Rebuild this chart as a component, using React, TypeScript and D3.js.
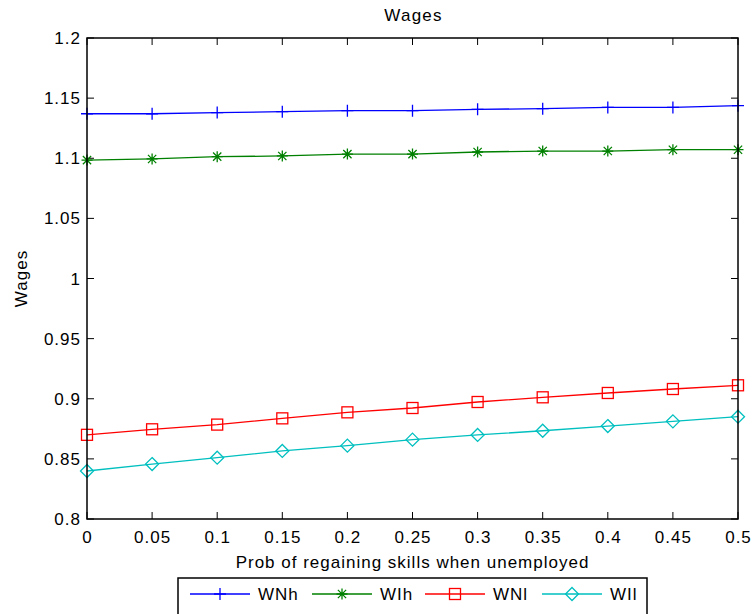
import React from "react";
import * as d3 from "d3";

const xs = [0, 0.05, 0.1, 0.15, 0.2, 0.25, 0.3, 0.35, 0.4, 0.45, 0.5];
const WNh = [1.137, 1.137, 1.138, 1.1387, 1.1396, 1.1396, 1.1407, 1.1412, 1.1423, 1.1423, 1.1437];
const WIh = [1.0985, 1.0994, 1.1013, 1.1019, 1.1035, 1.1035, 1.1052, 1.106, 1.106, 1.1071, 1.1071];
const WNl = [0.87, 0.8746, 0.8785, 0.8837, 0.8887, 0.8923, 0.8973, 0.9012, 0.9048, 0.9081, 0.9112];
const WIl = [0.8399, 0.8457, 0.851, 0.8566, 0.861, 0.866, 0.8699, 0.8734, 0.8773, 0.8812, 0.8851];
const xTicks = [0, 0.05, 0.1, 0.15, 0.2, 0.25, 0.3, 0.35, 0.4, 0.45, 0.5];
const yTicks = [0.8, 0.85, 0.9, 0.95, 1, 1.05, 1.1, 1.15, 1.2];
const seriesNames = ["WNh", "WIh", "WNl", "WIl"];
const seriesColors = ["#0000ff", "#008000", "#ff0000", "#00bfbf"];
const seriesMarkers = ["plus", "star", "square", "diamond"];

const W = 753, H = 614;
const M = { left: 87, right: 738, top: 38, bottom: 519 };
const FONT = "'Liberation Sans', Arial, sans-serif";
const LS = 1;

function Marker({ type, x, y, color }: { type: string; x: number; y: number; color: string }) {
  if (type === "plus") {
    return <path d={`M${x - 6},${y}H${x + 6}M${x},${y - 6}V${y + 6}`} stroke={color} strokeWidth={1.3} fill="none" />;
  }
  if (type === "star") {
    const r = 5.5, d = r * 0.75;
    return (
      <path
        d={`M${x - r},${y}H${x + r}M${x},${y - r}V${y + r}M${x - d},${y - d}L${x + d},${y + d}M${x - d},${y + d}L${x + d},${y - d}`}
        stroke={color} strokeWidth={1.3} fill="none" />
    );
  }
  if (type === "square") {
    return <rect x={x - 5.5} y={y - 5.5} width={11} height={11} stroke={color} strokeWidth={1.3} fill="none" />;
  }
  return <path d={`M${x},${y - 6.5}L${x + 6.5},${y}L${x},${y + 6.5}L${x - 6.5},${y}Z`} stroke={color} strokeWidth={1.3} fill="none" />;
}

export default function App() {
  const x = d3.scaleLinear().domain([0, 0.5]).range([M.left, M.right]);
  const y = d3.scaleLinear().domain([0.8, 1.2]).range([M.bottom, M.top]);
  const data = [WNh, WIh, WNl, WIl];
  const line = d3.line<number>().x((_, i) => x(xs[i])).y((d) => y(d));
  const fmt = (v: number) => String(+v.toFixed(2));
  const tl = 7;
  const legendX = [190, 312, 425, 542];
  const legendY = 594;

  return (
    <svg width={W} height={H} style={{ position: "absolute", left: 0, top: 0, fontFamily: FONT }}>
      <rect x={0} y={0} width={W} height={H} fill="#fff" />
      <text x={(M.left + M.right) / 2 + 1} y={21} textAnchor="middle" fontSize={17} letterSpacing={1.2} fill="#000">Wages</text>
      <text x={(M.left + M.right) / 2} y={568} textAnchor="middle" fontSize={17} letterSpacing={LS} fill="#000">
        Prob of regaining skills when unemployed
      </text>
      <text transform={`translate(27,${(M.top + M.bottom) / 2}) rotate(-90)`} textAnchor="middle" fontSize={17} letterSpacing={LS} fill="#000">
        Wages
      </text>
      {xTicks.map((t) => (
        <g key={"x" + t}>
          <line x1={x(t)} x2={x(t)} y1={M.bottom} y2={M.bottom - tl} stroke="#000" />
          <line x1={x(t)} x2={x(t)} y1={M.top} y2={M.top + tl} stroke="#000" />
          <text x={x(t) + 0.5} y={M.bottom + 24} textAnchor="middle" fontSize={17} letterSpacing={LS} fill="#000">{fmt(t)}</text>
        </g>
      ))}
      {yTicks.map((t) => (
        <g key={"y" + t}>
          <line x1={M.left} x2={M.left + tl} y1={y(t)} y2={y(t)} stroke="#000" />
          <line x1={M.right} x2={M.right - tl} y1={y(t)} y2={y(t)} stroke="#000" />
          <text x={M.left - 6} y={y(t) + 6} textAnchor="end" fontSize={17} letterSpacing={LS} fill="#000">{fmt(t)}</text>
        </g>
      ))}
      {data.map((vals, si) => (
        <g key={seriesNames[si]}>
          <path d={line(vals) || ""} stroke={seriesColors[si]} strokeWidth={1.3} fill="none" />
          {vals.map((v, i) => (
            <Marker key={i} type={seriesMarkers[si]} x={x(xs[i])} y={y(v)} color={seriesColors[si]} />
          ))}
        </g>
      ))}
      <rect x={M.left} y={M.top} width={M.right - M.left} height={M.bottom - M.top} fill="none" stroke="#000" strokeWidth={1.5} />
      <rect x={178} y={578} width={469} height={40} fill="#fff" stroke="#000" strokeWidth={1.5} />
      {seriesNames.map((n, i) => (
        <g key={"lg" + n}>
          <line x1={legendX[i]} x2={legendX[i] + 60} y1={legendY} y2={legendY} stroke={seriesColors[i]} strokeWidth={1.3} />
          <Marker type={seriesMarkers[i]} x={legendX[i] + 30} y={legendY} color={seriesColors[i]} />
          <text x={legendX[i] + 68} y={legendY + 6} fontSize={17} letterSpacing={LS} fill="#000">{n}</text>
        </g>
      ))}
    </svg>
  );
}
